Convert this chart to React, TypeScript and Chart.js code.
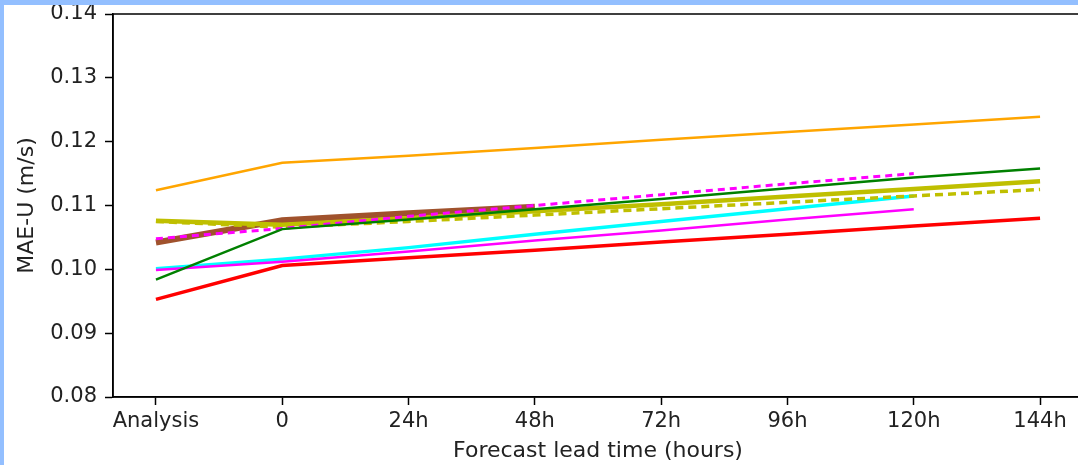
import React, { useEffect, useRef } from "react";
import { Chart, registerables } from "chart.js";
Chart.register(...registerables);

const xLabels = ["Analysis", "0", "24h", "48h", "72h", "96h", "120h", "144h"];
const yTicks = [0.08, 0.09, 0.1, 0.11, 0.12, 0.13, 0.14];

const orangeVals = [0.1124, 0.1167, 0.1178, 0.119, 0.1203, 0.1215, 0.1227, 0.1239];
const greenVals = [0.0984, 0.1063, 0.1078, 0.1094, 0.111, 0.1127, 0.1144, 0.1158];
const redVals = [0.0953, 0.1006, 0.1018, 0.103, 0.1043, 0.1055, 0.1068, 0.108];
const cyanVals = [0.1001, 0.1016, 0.1034, 0.1055, 0.1075, 0.1095, 0.1115, null];
const magentaVals = [0.0999, 0.1012, 0.1028, 0.1045, 0.1061, 0.1078, 0.1094, null];
const magentaDashVals = [0.1048, 0.1064, 0.1083, 0.11, 0.1117, 0.1134, 0.115, null];
const brownVals = [0.1042, 0.1077, 0.1088, 0.1098, null, null, null, null];
const oliveVals = [0.1076, 0.107, 0.108, 0.1091, 0.1102, 0.1114, 0.1126, 0.1138];
const oliveDashVals = [0.1075, 0.1066, 0.1075, 0.1085, 0.1095, 0.1105, 0.1115, 0.1125];

const FONT = "'DejaVu Sans', sans-serif";

export default function App() {
  const ref = useRef<HTMLCanvasElement>(null);
  useEffect(() => {
    const toPts = (vals: (number | null)[]) =>
      vals.map((v, i) => (v == null ? null : { x: i, y: v })).filter((p) => p !== null);
    const specs = [
      { vals: orangeVals, color: "#FFA500", w: 2.5 },
      { vals: redVals, color: "#FF0000", w: 3.5 },
      { vals: cyanVals, color: "#00FFFF", w: 3.5 },
      { vals: magentaVals, color: "#FF00FF", w: 2.5 },
      { vals: brownVals, color: "#A0522D", w: 6 },
      { vals: oliveVals, color: "#BFBF00", w: 4.5 },
      { vals: oliveDashVals, color: "#BFBF00", w: 3.5, dash: [8, 5] },
      { vals: magentaDashVals, color: "#FF00FF", w: 3, dash: [7, 5] },
      { vals: greenVals, color: "#008000", w: 2.5 },
    ];
    const datasets = specs.map((s, i) => ({
      data: toPts(s.vals),
      borderColor: s.color,
      backgroundColor: s.color,
      borderWidth: s.w,
      borderDash: s.dash || [],
      pointRadius: 0,
      fill: false,
      tension: 0,
      order: specs.length - i,
    }));
    const frame = {
      id: "frame",
      afterDraw(chart: any) {
        const { ctx, chartArea } = chart;
        const { left, top, right, bottom } = chartArea;
        ctx.save();
        ctx.strokeStyle = "#000";
        ctx.lineWidth = 1.5;
        ctx.strokeRect(left, top, right - left, bottom - top);
        ctx.restore();
      },
    };
    const tickFont = { family: FONT, size: 21 };
    const chart = new Chart(ref.current!, {
      type: "line",
      data: { datasets: datasets as any },
      plugins: [frame],
      options: {
        animation: false,
        responsive: false,
        layout: { padding: { top: 9, right: 21, left: 0, bottom: 0 } },
        plugins: { legend: { display: false }, tooltip: { enabled: false } },
        scales: {
          x: {
            type: "linear",
            min: -0.34,
            max: 7.34,
            afterBuildTicks: (s: any) => {
              s.ticks = xLabels.map((_, i) => ({ value: i }));
            },
            afterFit: (s: any) => {
              s.height = 68;
              s.paddingLeft = 0;
              s.paddingRight = 0;
            },
            ticks: {
              callback: (v: any) => xLabels[Math.round(Number(v))],
              font: tickFont,
              color: "#222",
              padding: 4,
              autoSkip: false,
              maxRotation: 0,
            },
            grid: { drawOnChartArea: false, tickLength: 8, tickColor: "#000", tickWidth: 1.5 },
            border: { color: "#000", width: 1.5 },
            title: {
              display: true,
              text: "Forecast lead time (hours)",
              font: { family: FONT, size: 22 },
              color: "#222",
              padding: { top: 0, bottom: 1 },
            },
          },
          y: {
            type: "linear",
            min: 0.08,
            max: 0.14,
            afterBuildTicks: (s: any) => {
              s.ticks = yTicks.map((v) => ({ value: v }));
            },
            afterFit: (s: any) => {
              s.width = 109;
              s.paddingTop = 0;
              s.paddingBottom = 0;
            },
            ticks: {
              callback: (v: any) => Number(v).toFixed(2),
              font: tickFont,
              color: "#222",
              padding: 8,
            },
            grid: { drawOnChartArea: false, tickLength: 8, tickColor: "#000", tickWidth: 1.5 },
            border: { color: "#000", width: 1.5 },
            title: {
              display: true,
              text: "MAE-U (m/s)",
              font: { family: FONT, size: 22 },
              color: "#222",
              padding: { top: 10, bottom: 0 },
            },
          },
        },
      },
    });
    return () => chart.destroy();
  }, []);
  return (
    <div
      style={{
        position: "fixed",
        left: 0,
        top: 0,
        width: 1078,
        height: 465,
        background: "#93BFFF",
        overflow: "hidden",
      }}
    >
      <div
        style={{
          position: "absolute",
          left: 4,
          top: 5,
          width: 1074,
          height: 460,
          background: "#fff",
          overflow: "hidden",
        }}
      >
        <canvas ref={ref} width={1100} height={460} style={{ display: "block" }} />
      </div>
    </div>
  );
}
